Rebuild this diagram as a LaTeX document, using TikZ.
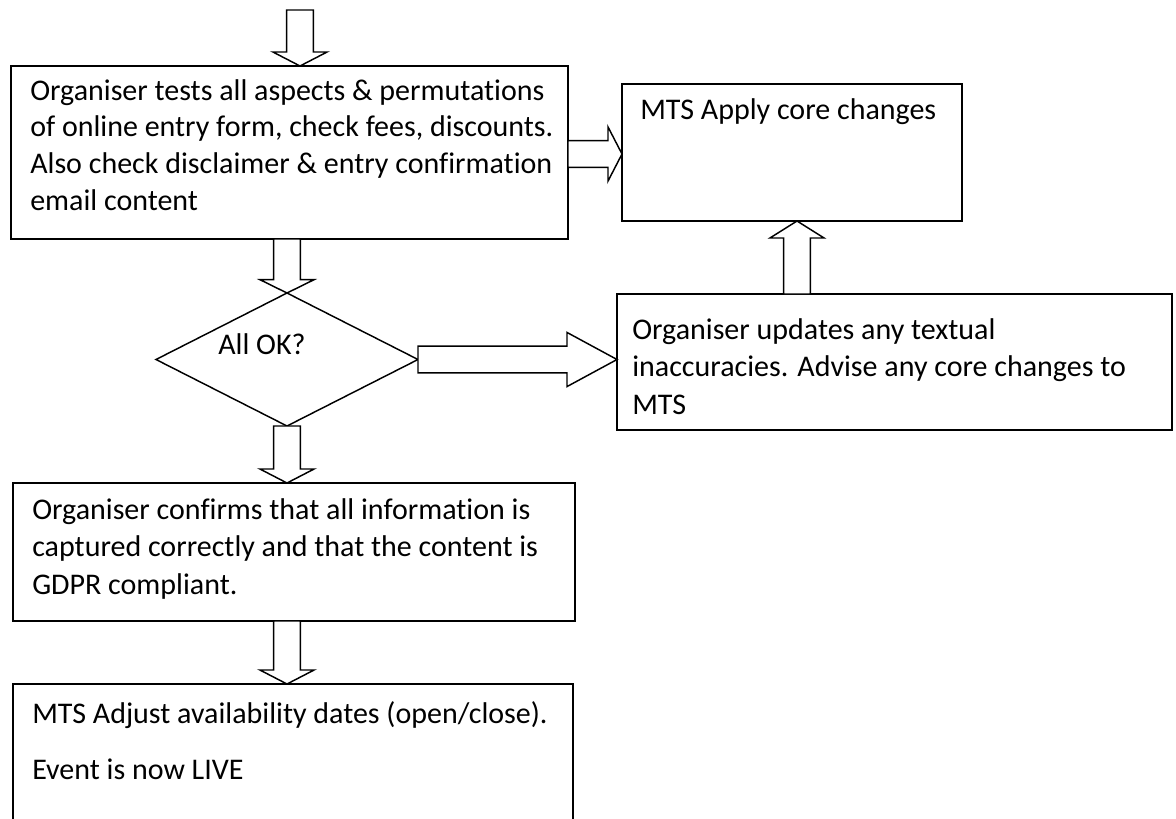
\documentclass[tikz,border=0pt]{standalone}
\usepackage{fontspec}
\setmainfont{Carlito}[Ligatures=NoCommon]
\usetikzlibrary{shapes.geometric,calc}
\newcommand\fatarrow[3]{%
  \draw[fatline] let \p1=#1, \p2=#2,
    \n1={veclen(\x2-\x1,\y2-\y1)}, \n2={atan2(\y2-\y1,\x2-\x1)} in
    [shift={(\p1)}, rotate=\n2]
    (0pt,-10.1pt) -- (\n1-#3,-10.1pt) -- (\n1-#3,-20.3pt) -- (\n1,0pt)
    -- (\n1-#3,20.3pt) -- (\n1-#3,10.1pt) -- (0pt,10.1pt) -- cycle;}
\begin{document}
\begin{tikzpicture}[x=0.75pt,y=-0.75pt,
  box/.style={draw, line width=1.1pt, rectangle, inner sep=0pt, outer sep=0pt, anchor=north west},
  txt/.style={anchor=north west, align=left, inner sep=0pt, font=\fontsize{22.5}{27.5}\selectfont},
  txtw/.style={txt, font=\fontsize{22.5}{28.2}\selectfont},
  fatline/.style={line width=1.1pt, fill=white, line join=miter}]
\clip (0,0) rectangle (1176,818);
\fill[white] (0,0) rectangle (1176,818);
% boxes
\node[box, minimum width=557*0.75pt, minimum height=173*0.75pt] (box1) at (11,66) {};
\node[box, minimum width=340*0.75pt, minimum height=137*0.75pt] (box2) at (622,84) {};
\node[box, minimum width=555*0.75pt, minimum height=136*0.75pt] (box3) at (617,294) {};
\node[draw, line width=1.1pt, diamond, inner sep=0pt, outer sep=0pt,
      minimum width=262*0.75pt, minimum height=133*0.75pt] (dia) at (287,359.5) {};
\node[box, minimum width=562*0.75pt, minimum height=138*0.75pt] (box4) at (13,483) {};
\node[box, minimum width=560*0.75pt, minimum height=200*0.75pt] (box5) at (13,684) {};
% texts
\node[txt] (t1) at (30,79) {Organiser tests all aspects \& permutations\\of online entry form, check fees, discounts.\\Also check disclaimer \& entry confirmation\\email content};
\node[txt] (t2) at (640,98) {MTS Apply core changes};
\node[txtw] (t3) at (632,318) {Organiser updates any textual\\inaccuracies. Advise any core changes to\\MTS};
\node[txt] (tdia) at (218,333) {All OK?};
\node[txtw] (t4) at (32,498) {Organiser confirms that all information is\\captured correctly and that the content is\\GDPR compliant.};
\node[txt] (t5) at (32,701) {MTS Adjust availability dates (open/close).\\[14.5pt]Event is now LIVE};
% arrows
\coordinate (start) at (300,10);
\fatarrow{(start)}{(start |- box1.north)}{10.5pt}
\fatarrow{(box1.east |- 0,154)}{(box2.west |- 0,154)}{10.5pt}
\fatarrow{(box3.north -| 797,0)}{(box2.south -| 797,0)}{12.75pt}
\fatarrow{(box1.south -| dia.north)}{(dia.north)}{10pt}
\fatarrow{(dia.east)}{(box3.west |- dia.east)}{37.5pt}
\fatarrow{(dia.south)}{(box4.north -| dia.south)}{10.5pt}
\fatarrow{(box4.south -| dia.south)}{(box5.north -| dia.south)}{10.5pt}
\end{tikzpicture}
\end{document}
